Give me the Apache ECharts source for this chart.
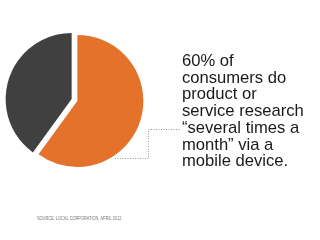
<!DOCTYPE html>
<html><head><meta charset="utf-8">
<script src="https://cdn.jsdelivr.net/npm/echarts@6/dist/echarts.min.js"></script>
<style>html,body{margin:0;padding:0;background:#fff}#c{width:320px;height:240px}</style>
</head><body><div id="c"></div>
<script>
var categories = ['Several times a month', 'Other'];
var values = [60, 40];
var colors = ['#E4722A', '#404040'];
var headline = ['60% of', 'consumers do', 'product or', 'service research', '\u201Cseveral times a', 'month\u201D via a', 'mobile device.'];
var source = 'SOURCE: LOCAL CORPORATION, APRIL 2012';

var chart = echarts.init(document.getElementById('c'), null, {renderer: 'canvas'});
chart.setOption({
  backgroundColor: '#fff',
  animation: false,
  series: [{
    type: 'pie',
    center: [74.5, 100],
    radius: [0, 66],
    startAngle: 90,
    clockwise: true,
    selectedMode: 'multiple',
    selectedOffset: 3,
    label: {show: false},
    labelLine: {show: false},
    emphasis: {disabled: true},
    data: categories.map(function (n, i) {
      return {name: n, value: values[i], selected: true, itemStyle: {color: colors[i]}};
    })
  }],
  graphic: [
    {type: 'polyline', silent: true,
     shape: {points: [[115, 158.5], [148.5, 158.5], [148.5, 129.5], [181, 129.5]]},
     style: {stroke: '#999', lineWidth: 1, lineDash: [1, 1.5], fill: null}},
    {type: 'text', left: 182, top: 53,
     style: {text: headline.join('\n'), font: '16.6px "Liberation Sans", Arial, sans-serif', lineHeight: 16.7, fill: '#1a1a1a'}},
    {type: 'text', x: 37, y: 216.5, scaleX: 0.83,
     style: {text: source, font: '4.7px "Liberation Sans", Arial, sans-serif', fill: '#777'}}
  ]
});
</script></body></html>
